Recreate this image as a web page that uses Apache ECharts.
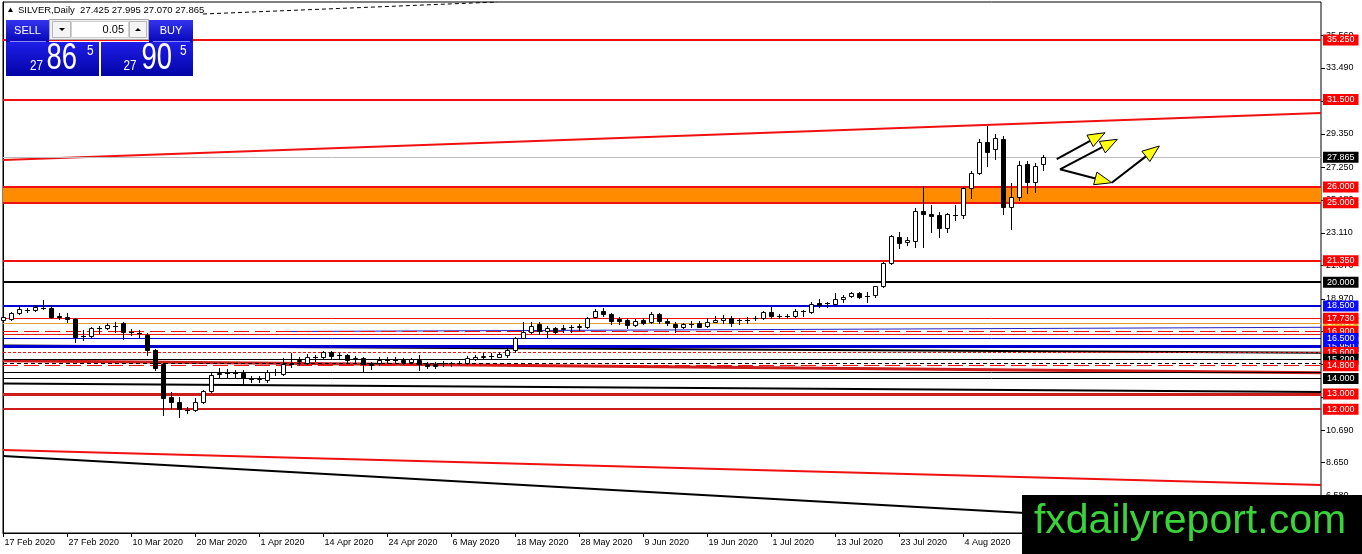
<!DOCTYPE html>
<html><head><meta charset="utf-8">
<script src="https://cdn.jsdelivr.net/npm/echarts@6/dist/echarts.min.js"></script>
<style>html,body{margin:0;padding:0;background:#fff}#c{width:1362px;height:554px}</style>
</head><body><div id="c"></div>
<script>
const FONT = '"Liberation Sans", Arial, sans-serif';

// ---- data ----
const dateLabels = ['17 Feb 2020','27 Feb 2020','10 Mar 2020','20 Mar 2020','1 Apr 2020','14 Apr 2020','24 Apr 2020','6 May 2020','18 May 2020','28 May 2020','9 Jun 2020','19 Jun 2020','1 Jul 2020','13 Jul 2020','23 Jul 2020','4 Aug 2020'];
const dateLabelIndex = [0,8,16,24,32,40,48,56,64,72,80,88,96,104,112,120];
const yTickValues = [35.56,33.49,31.42,29.35,27.25,25.18,23.11,21.07,18.97,16.90,14.83,12.79,10.69,8.65,6.58];

const opens = [17.62,17.68,18.04,18.25,18.25,18.40,18.35,17.84,17.79,17.66,16.60,16.60,17.09,17.09,17.27,17.41,16.89,16.80,16.67,15.73,
14.85,12.79,12.47,11.97,11.95,12.47,13.14,14.24,14.27,14.25,14.30,13.95,13.93,13.82,14.33,14.20,14.82,15.05,14.93,15.26,
15.27,15.62,15.40,15.41,15.19,15.23,14.88,14.88,15.09,15.11,15.10,14.99,15.10,14.85,14.84,14.88,14.90,14.92,14.89,15.16,
15.30,15.34,15.31,15.41,15.73,16.50,16.84,17.35,16.94,17.09,17.08,17.15,17.19,17.19,17.79,18.20,17.98,17.68,17.62,17.30,
17.62,17.49,17.99,17.55,17.37,17.20,17.36,17.41,17.24,17.51,17.62,17.76,17.61,17.63,17.75,17.72,18.14,17.88,17.90,17.89,
18.17,18.14,18.67,18.66,18.63,18.94,19.15,19.30,19.14,19.19,19.77,21.19,22.86,22.51,22.61,24.48,24.27,24.23,23.39,24.21,
24.23,25.91,26.86,28.81,28.39,28.99,24.71,25.38,27.44,26.33,27.425];
const highs = [17.93,18.14,18.42,18.39,18.56,18.88,18.56,18.08,18.04,17.72,16.99,17.19,17.24,17.41,17.51,17.51,17.03,16.99,16.78,15.79,
14.93,13.10,12.79,12.16,12.69,13.20,14.26,14.57,14.53,14.47,14.47,14.09,14.09,14.49,14.53,15.21,15.52,15.27,15.46,15.41,
15.68,15.68,15.52,15.48,15.35,15.29,14.99,15.31,15.31,15.27,15.21,15.22,15.41,14.99,14.97,15.03,14.99,15.03,15.35,15.41,
15.52,15.52,15.58,15.84,16.57,17.48,17.48,17.51,17.26,17.16,17.30,17.30,17.35,17.82,18.31,18.35,18.04,17.82,17.72,17.68,
17.72,18.12,18.08,17.66,17.51,17.45,17.55,17.55,17.72,17.87,17.91,17.87,17.76,17.82,17.87,18.18,18.42,17.99,17.99,18.29,
18.25,18.73,18.92,18.77,19.30,19.19,19.36,19.36,19.36,19.77,21.29,22.97,23.14,22.86,24.65,26.06,24.86,24.44,24.37,24.86,
26.01,27.00,29.02,29.83,29.33,29.20,26.22,27.63,27.65,27.49,27.995];
const lows = [17.55,17.62,18.00,18.10,18.20,18.31,17.72,17.66,17.51,16.25,16.36,16.56,16.81,17.03,16.88,16.42,16.67,16.57,15.41,14.47,
11.64,12.06,11.53,11.78,11.91,12.37,13.01,13.94,14.00,14.05,13.67,13.73,13.69,13.73,14.15,14.15,14.68,14.79,14.85,15.05,
15.21,15.21,15.16,14.99,14.99,14.34,14.53,14.78,14.88,14.88,14.85,14.91,14.47,14.61,14.60,14.74,14.74,14.83,14.85,15.10,
15.14,15.16,15.27,15.31,15.62,16.47,16.78,16.74,16.56,16.78,16.84,16.88,16.99,17.13,17.72,17.89,17.37,17.37,17.09,17.26,
17.37,17.43,17.45,17.30,16.88,17.09,17.20,17.16,17.20,17.51,17.45,17.26,17.37,17.41,17.62,17.68,17.72,17.72,17.76,17.82,
17.87,18.04,18.42,18.42,18.63,18.77,19.09,19.02,18.77,19.09,19.70,21.14,22.13,22.34,22.20,22.20,23.18,22.83,23.18,23.92,
24.02,25.28,26.81,27.32,27.74,24.29,23.35,25.17,25.63,25.70,27.07];
const closes = [17.83,18.08,18.31,18.26,18.42,18.36,17.82,17.80,17.68,16.56,16.63,17.09,17.10,17.30,17.25,16.88,16.87,16.77,15.73,14.58,
12.73,12.47,11.99,11.94,12.47,13.14,14.15,14.27,14.25,14.27,13.94,13.93,13.95,14.34,14.35,14.83,14.84,15.10,15.27,15.28,
15.62,15.35,15.42,15.10,15.21,14.82,14.78,15.10,15.11,15.09,14.99,15.14,14.85,14.74,14.75,14.90,14.89,14.94,15.20,15.31,
15.32,15.36,15.48,15.73,16.47,16.88,17.26,16.94,17.13,16.88,17.10,17.17,17.21,17.72,18.20,17.99,17.58,17.58,17.30,17.57,
17.45,17.99,17.57,17.45,17.20,17.37,17.38,17.20,17.51,17.62,17.76,17.41,17.63,17.62,17.77,18.14,17.87,17.90,17.89,18.20,
18.19,18.63,18.56,18.68,18.94,19.09,19.30,19.09,19.16,19.73,21.19,22.91,22.45,22.66,24.48,24.27,24.19,23.39,24.27,24.23,
25.91,26.86,28.81,28.18,29.06,24.71,25.38,27.38,26.33,27.33,27.865];

// horizontal levels (price) and their right-edge tags
const levelPrices = [35.25,31.50,27.865,26.00,25.00,21.35,20.00,18.50,17.43,17.73,16.894,16.74,15.95,16.45,15.57,15.14,14.89,14.74,14.32,13.93,12.96,12.00];
const levelTags   = ['35.250','31.500','27.865','26.000','25.000','21.350','20.000','18.500','17.430','17.730','16.900','','15.950','16.500','15.600','15.200','','14.800','','14.000','13.000','12.000'];
const bandLow = 25.00, bandHigh = 26.00;

// sloped trend lines: [barIndex, price] end points
const channelTop    = [[-0.0625,27.693],[164.6875,30.653]];
const channelBottom = [[-0.0625,9.431],[164.6875,7.227]];
const blackLower    = [[-0.0625,9.054],[164.6875,4.425]];
const redMid        = [[-0.0625,15.055],[164.6875,14.299]];
const blackMidLow   = [[-0.0625,13.619],[164.6875,13.084]];
const blackMidUp    = [[-0.0625,16.012],[164.6875,15.559]];
const blueSlope     = [[35.81,16.894],[164.6875,17.159]];
const topDashed     = [[24.94,36.887],[61.69,37.643]];

// yellow arrows: start [bar, price] -> tip [bar, price]
const arrowStarts = [[131.65,27.756],[132.06,27.108],[132.06,27.108],[138.53,26.264]];
const arrowTips   = [[137.69,29.413],[139.23,28.997],[138.53,26.264],[144.48,28.575]];

// ---- styles ----
const X_MIN = -0.0625, X_MAX = 164.6875;
const RED = '#f01010', DRED = '#cc1c1c', BLUE = '#0000d0';
const levelStyles = [
  {c:RED,w:2,t:'solid',bg:'#ff0000'},{c:RED,w:2,t:'solid',bg:'#ff0000'},{c:'#bdbdbd',w:1,t:'solid',bg:'#000'},
  {c:RED,w:2,t:'solid',bg:'#ff0000'},{c:RED,w:2,t:'solid',bg:'#ff0000'},{c:RED,w:2,t:'solid',bg:'#ff0000'},
  {c:'#000',w:2,t:'solid',bg:'#000'},{c:BLUE,w:2,t:'solid',bg:'#0a0aff'},{c:'#e0a030',w:1,t:'solid',bg:'#f4a020'},
  {c:RED,w:1,t:'solid',bg:'#ff0000'},{c:RED,w:1,t:[15,6],bg:'#ff0000'},{c:RED,w:1,t:'solid',bg:null},
  {c:BLUE,w:3,t:'solid',bg:'#0a0aff'},{c:BLUE,w:1,t:'solid',bg:'#0a0aff'},{c:RED,w:1,t:[3,2],bg:'#ff0000'},
  {c:'#000',w:1,t:'solid',bg:'#000'},{c:'#000',w:1,t:[4,3],bg:null},{c:RED,w:1,t:[15,6],bg:'#ff0000'},
  {c:'#000',w:1,t:'solid',bg:null},{c:'#000',w:1,t:'solid',bg:'#000'},{c:DRED,w:3,t:'solid',bg:'#ff0000'},
  {c:DRED,w:2,t:'solid',bg:'#ff0000'}
];

const chart = echarts.init(document.getElementById('c'), null, {renderer:'canvas'});

function seg(data, color, width, type, z) {
  return {type:'line', data, symbol:'none', silent:true, animation:false, z:z||3,
          lineStyle:{color, width, type}, clip:true};
}

const candleData = opens.map((o,i)=>[i,o,closes[i],lows[i],highs[i]]);
const arrowData = arrowStarts.map((s,i)=>[s[0],s[1],arrowTips[i][0],arrowTips[i][1]]);

const blueGrad = () => new echarts.graphic.LinearGradient(0,0,0,1,[{offset:0,color:'#3434f0'},{offset:1,color:'#0606b8'}]);
const priceGrad = () => new echarts.graphic.LinearGradient(0,0,0,1,[{offset:0,color:'#1e1ee8'},{offset:1,color:'#0303a6'}]);
function txt(x,y,text,size,opts){
  opts = opts||{};
  return Object.assign({type:'text', x, y, z:101, silent:true, style:{text, font:size+'px '+FONT, fill:opts.fill||'#fff',
    align:opts.align||'left', textAlign:opts.align||'left', verticalAlign:'middle', textVerticalAlign:'middle'}},
    opts.scaleX?{scaleX:opts.scaleX}:{});
}

const option = {
  animation:false,
  backgroundColor:'#fff',
  grid:{left:3, right:41, top:2, bottom:21, show:true, borderColor:'#000', borderWidth:1, backgroundColor:'#fff'},
  xAxis:{type:'value', min:X_MIN, max:X_MAX,
    axisLine:{show:true, lineStyle:{color:'#000', width:1}},
    axisTick:{show:true, customValues:dateLabelIndex, length:4, lineStyle:{color:'#000'}},
    axisLabel:{customValues:dateLabelIndex, formatter:v=>dateLabels[dateLabelIndex.indexOf(Math.round(v))]||'',
      align:'left', margin:5, padding:[0,0,0,1], fontSize:9, color:'#000', fontFamily:FONT},
    splitLine:{show:false}},
  yAxis:{type:'value', position:'right', min:4.205, max:37.643,
    axisLine:{show:true, lineStyle:{color:'#000', width:1}},
    axisTick:{show:false},
    axisLabel:{customValues:yTickValues, formatter:v=>v.toFixed(3), fontSize:9, color:'#000', margin:5, fontFamily:FONT},
    splitLine:{show:false}},
  series:[
    {type:'line', data:[], z:1, silent:true, clip:false,
      markArea:{silent:true, itemStyle:{color:'#ff8c00'}, data:[[{yAxis:bandLow},{yAxis:bandHigh}]]}},
    seg(channelTop, RED, 2, 'solid'),
    seg(channelBottom, RED, 2, 'solid'),
    seg(blackLower, '#000', 2, 'solid'),
    seg(blackMidUp, '#000', 2, 'solid', 2),
    seg(redMid, DRED, 3, 'solid'),
    seg(blackMidLow, '#000', 2, 'solid'),
    seg(blueSlope, '#2020c8', 1, 'solid'),
    seg(topDashed, '#000', 1, [4,3]),
    {type:'line', data:[], z:3, silent:true, clip:false,
      markLine:{silent:true, symbol:['none','none'], animation:false, precision:3,
        data: levelPrices.map((p,i)=>{
          const s = levelStyles[i];
          return {yAxis:p, lineStyle:{color:s.c, width:s.w, type:s.t},
            label: levelTags[i] ? {show:true, position:'end', distance:2, formatter:levelTags[i], color:'#fff',
              backgroundColor:s.bg, padding:[1,4,1,4], fontSize:9, lineHeight:9, fontFamily:FONT} : {show:false}};
        })}},
    // right-hand price-scale tick marks
    {type:'custom', z:2, silent:true, clip:false, data:yTickValues.map(v=>[X_MAX,v]), encode:{x:0,y:1},
      renderItem:function(params, api){
        const p=api.coord([api.value(0),api.value(1)]);
        const y=Math.round(p[1])+0.5;
        return {type:'line', shape:{x1:p[0],y1:y,x2:p[0]+4,y2:y}, style:{stroke:'#000', lineWidth:1}};
      }},
    {type:'custom', z:5, silent:true, data:candleData, encode:{x:0, y:[1,2,3,4]},
      renderItem:function(params, api){
        const i=api.value(0), o=api.value(1), c=api.value(2), l=api.value(3), h=api.value(4);
        const pO=api.coord([i,o]), pC=api.coord([i,c]), pH=api.coord([i,h]), pL=api.coord([i,l]);
        const cx=Math.floor(pO[0])+0.5;
        const yTop=Math.round(Math.min(pO[1],pC[1]))+0.5, yBot=Math.round(Math.max(pO[1],pC[1]))+0.5;
        const ch=[{type:'line', shape:{x1:cx,y1:Math.round(pH[1]),x2:cx,y2:Math.round(pL[1])+1}, style:{stroke:'#000', lineWidth:1}}];
        if (yBot-yTop<1) ch.push({type:'line', shape:{x1:cx-2.5,y1:yTop,x2:cx+2.5,y2:yTop}, style:{stroke:'#000', lineWidth:1}});
        else ch.push({type:'rect', shape:{x:cx-2,y:yTop,width:4,height:yBot-yTop}, style:{fill:c>=o?'#fff':'#000', stroke:'#000', lineWidth:1}});
        return {type:'group', children:ch};
      }},
    {type:'custom', z:6, silent:true, data:arrowData, encode:{x:[0,2], y:[1,3]},
      renderItem:function(params, api){
        const a=api.coord([api.value(0),api.value(1)]), b=api.coord([api.value(2),api.value(3)]);
        const dx=b[0]-a[0], dy=b[1]-a[1], len=Math.hypot(dx,dy), ux=dx/len, uy=dy/len;
        const L=17, W=6.5;
        const bx=b[0]-ux*L, by=b[1]-uy*L;
        return {type:'group', children:[
          {type:'line', shape:{x1:a[0],y1:a[1],x2:bx,y2:by}, style:{stroke:'#000', lineWidth:2}},
          {type:'polygon', shape:{points:[[b[0],b[1]],[bx-uy*W,by+ux*W],[bx+uy*W,by-ux*W]]}, style:{fill:'#ffff10', stroke:'#000', lineWidth:1}}
        ]};
      }}
  ],
  graphic:[
    {type:'polygon', z:100, silent:true, shape:{points:[[8,12],[13,12],[10.5,7.5]]}, style:{fill:'#000'}},
    txt(18,10,'SILVER,Daily  27.425 27.995 27.070 27.865',9.5,{fill:'#000'}),
    // one-click trading panel
    {type:'rect', z:100, silent:true, shape:{x:6,y:20,width:43,height:22}, style:{fill:blueGrad()}},
    {type:'line', z:101, silent:true, shape:{x1:10,y1:41.5,x2:46,y2:41.5}, style:{stroke:'#8a8aff', lineWidth:1}},
    txt(27.5,31,'SELL',11,{align:'center'}),
    {type:'rect', z:100, silent:true, shape:{x:49.5,y:19.5,width:99,height:20}, style:{fill:'#efefef', stroke:'#a8a8a8', lineWidth:1}},
    {type:'rect', z:100, silent:true, shape:{x:52.5,y:21.5,width:18,height:16}, style:{fill:'#f4f4f4', stroke:'#b8b8b8', lineWidth:1}},
    {type:'polygon', z:101, silent:true, shape:{points:[[59,28],[65,28],[62,31]]}, style:{fill:'#000'}},
    {type:'rect', z:100, silent:true, shape:{x:71.5,y:21.5,width:57,height:16}, style:{fill:'#fff', stroke:'#d0d0d0', lineWidth:1}},
    txt(124,29.5,'0.05',11,{align:'right', fill:'#000'}),
    {type:'rect', z:100, silent:true, shape:{x:129.5,y:21.5,width:17,height:16}, style:{fill:'#f4f4f4', stroke:'#b8b8b8', lineWidth:1}},
    {type:'polygon', z:101, silent:true, shape:{points:[[135,31],[141,31],[138,28]]}, style:{fill:'#000'}},
    {type:'rect', z:100, silent:true, shape:{x:149,y:20,width:44,height:22}, style:{fill:blueGrad()}},
    {type:'line', z:101, silent:true, shape:{x1:153,y1:41.5,x2:190,y2:41.5}, style:{stroke:'#8a8aff', lineWidth:1}},
    txt(171,31,'BUY',11,{align:'center'}),
    {type:'rect', z:100, silent:true, shape:{x:6,y:42,width:93,height:34}, style:{fill:priceGrad()}},
    {type:'rect', z:100, silent:true, shape:{x:101,y:42,width:92,height:34}, style:{fill:priceGrad()}},
    txt(30,65.5,'27',15,{scaleX:0.78}),
    txt(46.5,58.5,'86',37,{scaleX:0.74}),
    txt(87,51.5,'5',14,{scaleX:0.85}),
    txt(123.5,65.5,'27',15,{scaleX:0.78}),
    txt(141.5,58.5,'90',37,{scaleX:0.74}),
    txt(180,51.5,'5',14,{scaleX:0.85}),
    // watermark
    {type:'rect', z:100, silent:true, shape:{x:1022,y:495,width:340,height:59}, style:{fill:'#000'}},
    txt(1190,522,'fxdailyreport.com',41,{align:'center', fill:'#3ad43a'})
  ]
};
chart.setOption(option);
</script>
</body></html>
